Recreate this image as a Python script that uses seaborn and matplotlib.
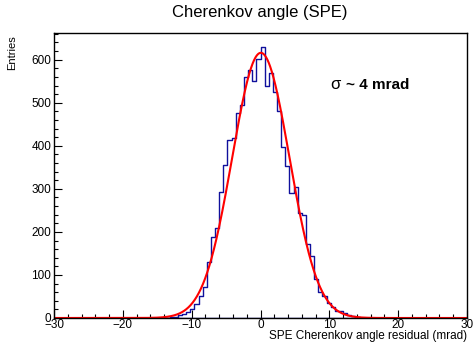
import numpy as np
import pandas as pd
import matplotlib
matplotlib.use("Agg")
import matplotlib.pyplot as plt
import seaborn as sns
from matplotlib.ticker import MultipleLocator

# ---- data ----
bin_width = 0.6
first_edge = -15.0
counts = [0, 1, 1, 2, 3, 6, 10, 15, 22, 32,
          51, 73, 130, 187, 209, 292, 356, 414, 418, 476,
          495, 559, 577, 551, 602, 630, 538, 569, 526, 480,
          398, 353, 290, 304, 245, 240, 171, 143, 90, 61,
          50, 34, 26, 17, 16, 11, 7, 4, 3, 1]
# Gaussian fit parameters (constant, mean, sigma)
fit_const = 616.0
fit_mean = 0.05
fit_sigma = 4.15
x_range = (-30, 30)
y_max = 662
title = "Cherenkov angle (SPE)"
xlabel = "SPE Cherenkov angle residual (mrad)"
ylabel = "Entries"
annot_sym = "σ"
annot_rest = "~ 4 mrad"

edges = first_edge + bin_width * np.arange(len(counts) + 1)
centers = 0.5 * (edges[:-1] + edges[1:])
df = pd.DataFrame({"x": centers, "w": counts})

xf = np.linspace(x_range[0], x_range[1], 1201)
fit_df = pd.DataFrame({"x": xf,
                       "y": fit_const * np.exp(-0.5 * ((xf - fit_mean) / fit_sigma) ** 2)})

sns.set_style("ticks")
plt.rcParams["font.family"] = ["Liberation Sans", "DejaVu Sans"]
plt.rcParams["text.color"] = "black"
plt.rcParams["xtick.color"] = "black"
plt.rcParams["ytick.color"] = "black"
plt.rcParams["axes.labelcolor"] = "black"

fig = plt.figure(figsize=(4.74, 3.47), dpi=100)
ax = fig.add_axes([54 / 474, 1 - 318 / 347, (467 - 54) / 474, (318 - 33) / 347])

sns.histplot(data=df, x="x", weights="w", binwidth=bin_width,
             binrange=(float(edges[0]), float(edges[-1])), element="step", fill=False,
             color="#10109c", linewidth=1.0, ax=ax)
sns.lineplot(data=fit_df, x="x", y="y", color="#ff0000", linewidth=1.5, ax=ax)
# empty bins line along the axis outside the filled range
ax.plot([x_range[0], x_range[1]], [0, 0], color="#10109c", linewidth=1.0, zorder=1)

ax.set_xlim(*x_range)
ax.set_ylim(0, y_max)

for s in ax.spines.values():
    s.set_visible(True)
    s.set_color("black")
    s.set_linewidth(1.0)

ax.xaxis.set_major_locator(MultipleLocator(10))
ax.xaxis.set_minor_locator(MultipleLocator(2))
ax.yaxis.set_major_locator(MultipleLocator(100))
ax.yaxis.set_minor_locator(MultipleLocator(20))
ax.tick_params(which="both", direction="in", top=False, right=False, labelsize=8.5,
               width=0.8, color="black", labelcolor="black")
ax.tick_params(which="major", length=6, pad=2)
ax.tick_params(which="minor", length=3)
ax.tick_params(axis="x", which="major", pad=1)
ax.set_xticks([-30, -20, -10, 0, 10, 20, 30])
ax.set_xticklabels(["\u221230", "\u221220", "\u221210", "0", "10", "20", "30"])

ax.set_xlabel("")
ax.set_ylabel("")
fig.text(467 / 474, 1 - 336 / 347, xlabel, ha="right", va="center", fontsize=8.5)
fig.text(12 / 474, 1 - 35 / 347, ylabel, ha="center", va="top", rotation=90, fontsize=8)
fig.text(260 / 474, 1 - 12 / 347, title, ha="center", va="center", fontsize=12)
ax.text(10.2, 542, annot_sym, ha="left", va="center", fontsize=12)
ax.annotate(annot_rest, xy=(10.2, 542), xytext=(11, 0), textcoords="offset points",
            ha="left", va="center", fontsize=11, fontweight="bold")

fig.savefig("out.png", dpi=100)
